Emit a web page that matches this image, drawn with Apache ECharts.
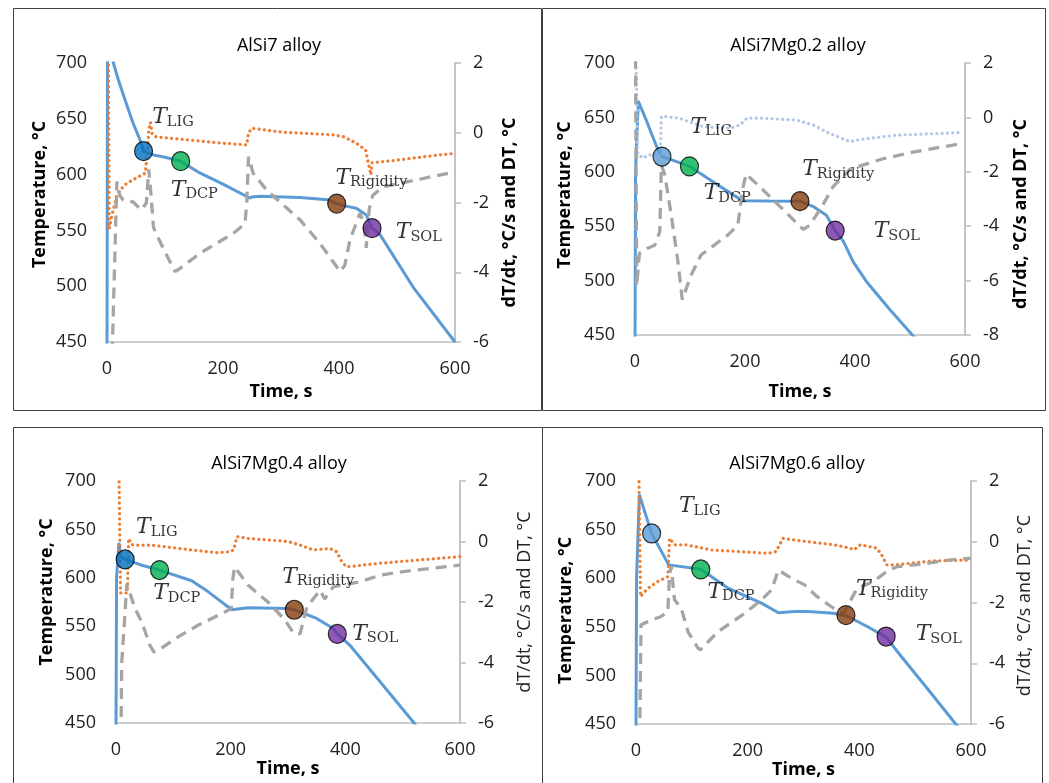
<!DOCTYPE html>
<html>
<head>
<meta charset="utf-8">
<script src="https://cdn.jsdelivr.net/npm/echarts@6/dist/echarts.min.js"></script>
<style>
  html, body { margin: 0; padding: 0; background: #ffffff; }
  #chart { width: 1049px; height: 783px; }
</style>
</head>
<body>
<div id="chart"></div>
<script>
// Cooling curves: time (s) vs temperature (°C), cooling rate dT/dt (°C/s) and DT (°C)

const panelTitles = ['AlSi7 alloy', 'AlSi7Mg0.2 alloy', 'AlSi7Mg0.4 alloy', 'AlSi7Mg0.6 alloy'];

// ---------- AlSi7 ----------
const alsi7Temp = [[0,440],[1,740],[5,720],[11,700],[19.5,685],[31,667],[45,646],[57,631],[63,621],[80,617.6],[100,615.5],[127,612],[160,601.5],[200,591.5],[246,579],[250,580],[264,580.5],[333,579.5],[380,577.5],[396,574],[410,572],[430,569.8],[447,563.8],[457,552],[471,546],[528,499],[600,450]];
const alsi7Rate = [[2,3.0],[4,-2.75],[8,-2.4],[14,-2.0],[17,-1.8],[25,-1.6],[34,-1.45],[50,-1.3],[66,-1.16],[70,-0.5],[72,0.1],[75,0.3],[78,-0.05],[85,-0.12],[150,-0.22],[200,-0.3],[241,-0.35],[244,0.0],[250,0.13],[300,0.02],[390,-0.06],[407,-0.11],[430,-0.3],[446,-0.5],[450,-0.83],[455,-1.21],[457,-0.86],[488,-0.81],[550,-0.68],[600,-0.59]];
const alsi7Dt = [[9,-6.3],[17,-1.4],[22,-1.8],[28,-1.93],[45,-1.98],[55,-2.15],[60,-2.21],[68,-2.0],[72,-1.05],[76,-1.8],[80,-2.69],[83,-2.84],[97,-3.31],[117,-3.98],[125,-3.9],[160,-3.46],[218,-2.88],[238,-2.6],[241,-2.0],[244,-0.69],[247,-0.65],[252,-1.16],[275,-1.64],[333,-2.5],[367,-3.17],[402,-3.98],[410,-3.8],[419,-3.07],[436,-2.31],[443,-2.6],[447,-3.3],[452,-2.2],[458,-1.8],[476,-1.55],[534,-1.35],[600,-1.12]];
const alsi7Points = [[63,621],[127,612],[396,574],[457,552]];
const alsi7Labels = [[77,651,'LIG'],[109,586,'DCP'],[393,597,'Rigidity'],[497,548,'SOL']];

// ---------- AlSi7Mg0.2 ----------
const mg02Temp = [[0,430],[1,600],[6,665],[20,648],[30,635],[42,620],[49,614],[72,610],[99,605],[150,588],[195,573.5],[245,573.2],[300,573],[324,568],[348,560],[364,546],[379,536],[397,517],[421,499],[464,473],[506,449],[520,440]];
const mg02Rate = [[1,2.4],[3,1.0],[5,-1.35],[8,-1.3],[15,-1.5],[24,-1.38],[46,-1.38],[48,0.03],[54,0.03],[80,-0.03],[124,-0.34],[173,-0.4],[191,-0.28],[203,-0.03],[233,-0.03],[294,-0.1],[324,-0.28],[354,-0.59],[391,-0.89],[415,-0.8],[476,-0.65],[591,-0.56]];
const mg02Dt = [[1,2.2],[3,-6.2],[8,-5.0],[24,-4.8],[36,-4.7],[45,-4.2],[48,-1.75],[54,-2.1],[66,-3.6],[78,-5.3],[86,-6.7],[102,-5.8],[120,-5.06],[169,-4.32],[187,-3.96],[196,-2.6],[202,-2.08],[233,-2.67],[264,-3.28],[294,-3.89],[306,-4.12],[318,-3.96],[342,-3.2],[360,-2.55],[391,-1.9],[451,-1.52],[510,-1.26],[591,-0.97]];
const mg02Points = [[49,614],[99,605],[300,573],[364,546]];
const mg02Labels = [[100,641,'LIG'],[124,580,'DCP'],[303,602,'Rigidity'],[433,545,'SOL']];

// ---------- AlSi7Mg0.4 ----------
const mg04Temp = [[0,445],[1,600],[5,636],[8,622],[16,619],[45,613],[76,608],[132,597],[161,585.5],[202,567],[230,569],[300,568.3],[311,567],[350,558],[379,547.6],[386,542],[408,530.3],[461,492.4],[520,450],[530,441]];
const mg04Rate = [[5,2.5],[8,-1.7],[20,-1.7],[22,0.1],[24,0.15],[27,-0.1],[33,-0.12],[62,-0.12],[132,-0.28],[176,-0.37],[199,-0.34],[205,-0.28],[211,0.16],[230,0.1],[300,0.0],[321,-0.12],[344,-0.28],[373,-0.23],[385,-0.34],[394,-0.67],[402,-0.84],[460,-0.72],[600,-0.5]];
const mg04Dt = [[9,-5.8],[10,-4.0],[19,-1.39],[33,-2.21],[45,-2.66],[59,-3.43],[66,-3.65],[74,-3.6],[103,-3.21],[143,-2.77],[190,-2.33],[201,-2.21],[204,-1.2],[207,-0.84],[230,-1.44],[265,-2.0],[295,-2.6],[310,-3.04],[321,-3.05],[333,-2.16],[356,-1.61],[364,-1.9],[379,-1.5],[426,-1.33],[461,-1.11],[519,-0.95],[600,-0.78]];
const mg04Points = [[16,619],[76,608],[311,567],[386,542]];
const mg04Labels = [[34,652,'LIG'],[64,584,'DCP'],[289,601,'Rigidity'],[411,542,'SOL']];

// ---------- AlSi7Mg0.6 ----------
const mg06Temp = [[0,445],[1,600],[6,686],[28,646],[58.6,613.7],[116,609.3],[165,589.7],[224.6,574.3],[255,564.5],[284.5,565.7],[308,565.7],[354,564],[376,561.6],[414,550.3],[448,539.4],[473,521],[521,487],[574,449],[585,441]];
const mg06Rate = [[5,2.5],[8,-1.8],[21.5,-1.53],[39,-1.31],[57,-1.15],[60,0.11],[63,0.17],[69,-0.1],[90,-0.1],[135,-0.27],[237,-0.38],[251,-0.32],[263,0.11],[308,0.0],[354,-0.1],[384,-0.21],[390,-0.27],[402,-0.1],[431,-0.21],[440,-0.43],[449,-0.76],[464,-0.76],[533,-0.63],[600,-0.6]];
const mg06Dt = [[7,-5.8],[9,-2.73],[21.5,-2.63],[45,-2.46],[57,-2.3],[60,-1.09],[63,-0.8],[69,-1.91],[81,-2.19],[93,-2.96],[111,-3.5],[115,-3.56],[147,-2.96],[195,-2.35],[225,-1.91],[243,-1.58],[255,-0.93],[278,-1.2],[302,-1.42],[324,-1.8],[354,-2.19],[372,-2.35],[396,-1.53],[425,-1.31],[449,-0.98],[467,-0.82],[521,-0.71],[563,-0.6],[600,-0.54]];
const mg06Points = [[28,646],[116,609],[376,562],[448,540]];
const mg06Labels = [[76,674,'LIG'],[127,586,'DCP'],[393,589,'Rigidity'],[500,542,'SOL']];

// Right-hand axis ranges
const rateMin = [-6, -8, -6, -6];
const rateMax = [2, 2, 2, 2];

// ---------- styling & layout ----------
const BLUE = '#5B9BD5', ORANGE = '#ED7D31', GRAY = '#A5A5A5', PALE = '#B4C7E7';
const AXIS_GRAY = '#BFBFBF';
const FONT = '"Open Sans", "Liberation Sans", sans-serif';
const SERIF = '"DejaVu Serif", "Liberation Serif", serif';
const pointColors = ['#00B050', '#843C0C', '#7030A0'];

const panels = [
  { temp: alsi7Temp, rate: alsi7Rate, dt: alsi7Dt, pts: alsi7Points, lbl: alsi7Labels,
    rateColor: ORANGE, ligColor: '#0070C0', boldRight: true,
    grid: { left: 107, top: 63, width: 348, height: 279 },
    titleX: 274, titleY: 32, xNameGap: 41, leftGap: 58, rightGap: 46,
    leftPad: [0, 0, 0, 16], rightPad: [0, 20, 0, 0] },
  { temp: mg02Temp, rate: mg02Rate, dt: mg02Dt, pts: mg02Points, lbl: mg02Labels,
    rateColor: PALE, ligColor: '#5B9BD5', boldRight: true,
    grid: { left: 635, top: 63, width: 330, height: 272 },
    titleX: 793, titleY: 32, xNameGap: 48, leftGap: 61, rightGap: 47,
    leftPad: [0, 0, 0, 8], rightPad: [0, 30, 0, 0] },
  { temp: mg04Temp, rate: mg04Rate, dt: mg04Dt, pts: mg04Points, lbl: mg04Labels,
    rateColor: ORANGE, ligColor: '#0070C0', boldRight: false,
    grid: { left: 116, top: 481, width: 344, height: 242 },
    titleX: 274, titleY: 450, xNameGap: 34, leftGap: 60, rightGap: 56,
    leftPad: [0, 0, 0, 20], rightPad: [0, 0, 0, 0] },
  { temp: mg06Temp, rate: mg06Rate, dt: mg06Dt, pts: mg06Points, lbl: mg06Labels,
    rateColor: ORANGE, ligColor: '#5B9BD5', boldRight: false,
    grid: { left: 636, top: 481, width: 335, height: 243 },
    titleX: 792, titleY: 450, xNameGap: 35, leftGap: 61, rightGap: 45,
    leftPad: [0, 16, 0, 0], rightPad: [0, 6, 0, 0] }
];

const grids = [], xAxes = [], yAxes = [], series = [], titles = [];

panels.forEach((p, i) => {
  grids.push(Object.assign({ containLabel: false }, p.grid));
  titles.push({
    text: panelTitles[i], left: p.titleX, top: p.titleY, textAlign: 'center',
    textStyle: { fontFamily: FONT, fontSize: 18, fontWeight: 'normal', color: '#000' }
  });
  xAxes.push({
    type: 'value', gridIndex: i, min: 0, max: 600, interval: 200,
    name: 'Time, s', nameLocation: 'middle', nameGap: p.xNameGap,
    nameTextStyle: { fontFamily: FONT, fontSize: 18, fontWeight: 'bold', color: '#000' },
    axisLine: { show: true, onZero: false, lineStyle: { color: AXIS_GRAY, width: 1.5 } },
    axisTick: { show: false },
    axisLabel: { margin: 18, fontFamily: FONT, fontSize: 18, color: '#222' },
    splitLine: { show: false }
  });
  // left: temperature
  yAxes.push({
    type: 'value', gridIndex: i, position: 'left', min: 450, max: 700, interval: 50,
    name: 'Temperature, °C', nameLocation: 'middle', nameGap: p.leftGap,
    nameTextStyle: { fontFamily: FONT, fontSize: 18, fontWeight: 'bold', color: '#000', padding: p.leftPad },
    axisLine: { show: false }, axisTick: { show: false },
    axisLabel: { margin: 20, fontFamily: FONT, fontSize: 18, color: '#222' },
    splitLine: { show: false }
  });
  // right: dT/dt and DT
  yAxes.push({
    type: 'value', gridIndex: i, position: 'right', min: rateMin[i], max: rateMax[i], interval: 2,
    name: 'dT/dt, °C/s and DT, °C', nameLocation: 'middle', nameGap: p.rightGap,
    nameTextStyle: {
      fontFamily: FONT, fontSize: 18, fontWeight: p.boldRight ? 'bold' : 'normal',
      color: p.boldRight ? '#000' : '#222', padding: p.rightPad
    },
    axisLine: { show: true, onZero: false, lineStyle: { color: AXIS_GRAY, width: 1.8 } },
    axisTick: { show: true, inside: false, length: 6, lineStyle: { color: AXIS_GRAY, width: 1.5 } },
    axisLabel: { margin: 18, fontFamily: FONT, fontSize: 18, color: '#222' },
    splitLine: { show: false }
  });

  const yL = i * 2, yR = i * 2 + 1;

  series.push({
    type: 'line', name: 'Temperature', xAxisIndex: i, yAxisIndex: yL, data: p.temp,
    showSymbol: false, symbol: 'none', smooth: false, z: 3,
    lineStyle: { color: BLUE, width: 3 }
  });
  series.push({
    type: 'line', name: 'dT/dt', xAxisIndex: i, yAxisIndex: yR, data: p.rate,
    showSymbol: false, symbol: 'none', z: 4,
    lineStyle: { color: p.rateColor, width: 3.2, type: [0.1, 5.2], cap: 'round' }
  });
  series.push({
    type: 'line', name: 'DT', xAxisIndex: i, yAxisIndex: yR, data: p.dt,
    showSymbol: false, symbol: 'none', z: 4,
    lineStyle: { color: GRAY, width: 3.3, type: [11, 7] }
  });
  series.push({
    type: 'scatter', name: 'points', xAxisIndex: i, yAxisIndex: yL, z: 6,
    symbol: 'circle', symbolSize: [18, 19],
    data: p.pts.map((pt, k) => ({
      value: pt,
      itemStyle: { color: k === 0 ? p.ligColor : pointColors[k - 1], borderColor: '#000', borderWidth: 1.2 }
    }))
  });
  series.push({
    type: 'scatter', name: 'labels', xAxisIndex: i, yAxisIndex: yL, z: 7,
    symbol: 'circle', symbolSize: 1, itemStyle: { color: 'rgba(0,0,0,0)' },
    silent: true,
    data: p.lbl,
    label: {
      show: true, position: 'right', distance: 0,
      formatter: (d) => '{t|T}{s|' + d.value[2] + '}',
      rich: {
        t: { fontFamily: SERIF, fontStyle: 'italic', fontSize: 22, lineHeight: 24, color: '#000' },
        s: { fontFamily: SERIF, fontSize: 14.5, lineHeight: 11, verticalAlign: 'bottom', color: '#000' }
      }
    }
  });
});

// panel frames
const frames = [
  { x: 13, y: 8, w: 528, h: 402 },
  { x: 542, y: 8, w: 503, h: 402 },
  { x: 13, y: 427, w: 529, h: 370 },
  { x: 542, y: 427, w: 500, h: 370 }
].map(f => ({
  type: 'rect', silent: true, z: 0,
  shape: { x: f.x + 0.5, y: f.y + 0.5, width: f.w, height: f.h },
  style: { fill: 'none', stroke: '#404040', lineWidth: 1 }
}));

const chart = echarts.init(document.getElementById('chart'), null, { renderer: 'canvas' });
chart.setOption({
  animation: false,
  backgroundColor: '#ffffff',
  title: titles,
  grid: grids,
  xAxis: xAxes,
  yAxis: yAxes,
  series: series,
  graphic: frames
});
</script>
</body>
</html>
